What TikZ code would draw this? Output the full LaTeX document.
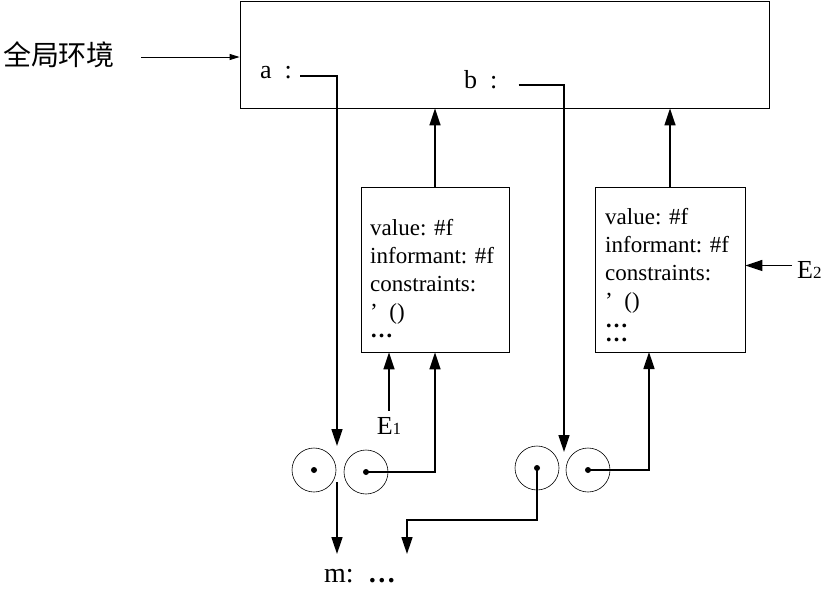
\documentclass[tikz,border=0pt]{standalone}
\usepackage{fontspec}
\setmainfont{Liberation Serif}
\newfontfamily\cjkfont{Noto Sans CJK SC}
\usepackage{tikz}
\usetikzlibrary{arrows.meta}
\newcommand{\subnum}[1]{{\fontsize{17}{17}\selectfont #1}}
\newcommand{\bigdots}{\textbf{…}}

\begin{document}
\begin{tikzpicture}[x=1pt,y=-1pt,
  box/.style={draw,line width=0.8pt,inner sep=0pt},
  cell/.style={circle,draw,line width=0.6pt,minimum size=44pt,inner sep=0pt},
  conn/.style={line width=1.6pt,-{Triangle[length=17pt,width=11pt]}},
  txt/.style={align=left,inner sep=0pt,font=\fontsize{23}{28}\selectfont},
  lbl/.style={inner sep=0pt,font=\fontsize{26}{26}\selectfont}]
\useasboundingbox (0,0) rectangle (828,595);

% environment and the two frames
\node[box,minimum width=529pt,minimum height=107pt] (env) at (504.5,54.5) {};
\node[box,minimum width=148pt,minimum height=165pt] (frame1) at (435,269.5) {};
\node[box,minimum width=150pt,minimum height=165pt] (frame2) at (670,269.5) {};

\node[txt,anchor=north west] (body1) at (370,219) {value: \#f\\informant: \#f\\constraints:\\’\ \ ()\\[-10pt]\bigdots};
\node[txt,anchor=north west] (body2) at (605,208) {value: \#f\\informant: \#f\\constraints:\\’\ \ ()\\[-9pt]\bigdots\\[-14pt]\bigdots};

% labels
\node[inner sep=0pt,font=\cjkfont\fontsize{28}{28}\selectfont] (glob) at (59,55) {全局环境};
\node[lbl,anchor=base west] (aname) at (260,78) {a\enspace:};
\node[lbl,anchor=base west] (bname) at (464,88) {b\enspace:};
\node[lbl,anchor=base] (e1) at (389,434) {E\subnum{1}};
\node[lbl,anchor=base west] (e2) at (797,278) {E\subnum{2}};
\node[lbl,anchor=base west,font=\fontsize{28}{28}\selectfont] (mval) at (324,582) {m:\hspace{14pt}\bigdots};

% cells
\node[cell] (c11) at (314,470) {};
\node[cell] (c12) at (366,472) {};
\node[cell] (c21) at (537,468) {};
\node[cell] (c22) at (588,470) {};
\foreach \c in {c11,c12,c21,c22}
  \fill (\c.center) circle (3pt);

\coordinate (adown) at (337,446);
\coordinate (bdown) at (564,452);
\coordinate (in2) at (649,352);
\coordinate (mhead) at (337,554);
\coordinate (dhead) at (407,554);

% connectors
\draw[line width=0.8pt,-{Triangle[length=10pt,width=6pt]}] ([xshift=26pt,yshift=-2pt]glob.east) -- (env.west |- 0,57);
\draw[conn] ([xshift=8pt,yshift=2pt]aname.base east) -| (adown);
\draw[conn] ([xshift=21pt,yshift=3pt]bname.base east) -| (bdown);
\draw[conn] (frame1.north) -- (frame1.north |- env.south);
\draw[conn] (frame2.north) -- (frame2.north |- env.south);
\draw[conn] ([yshift=6pt]e1.north) -- (e1.north |- frame1.south);
\draw[conn] ([xshift=-5pt,yshift=4pt]e2.west) -- ([yshift=4pt]e2.west -| frame2.east);
\draw[conn] (c12.center) -| (frame1.south);
\draw[conn] (c22.center) -| (in2);
\draw[conn] (c21.center) -- ++(0,52) -| (dhead);
\draw[conn] ([yshift=-36pt]adown) -- (mhead);
\end{tikzpicture}
\end{document}
